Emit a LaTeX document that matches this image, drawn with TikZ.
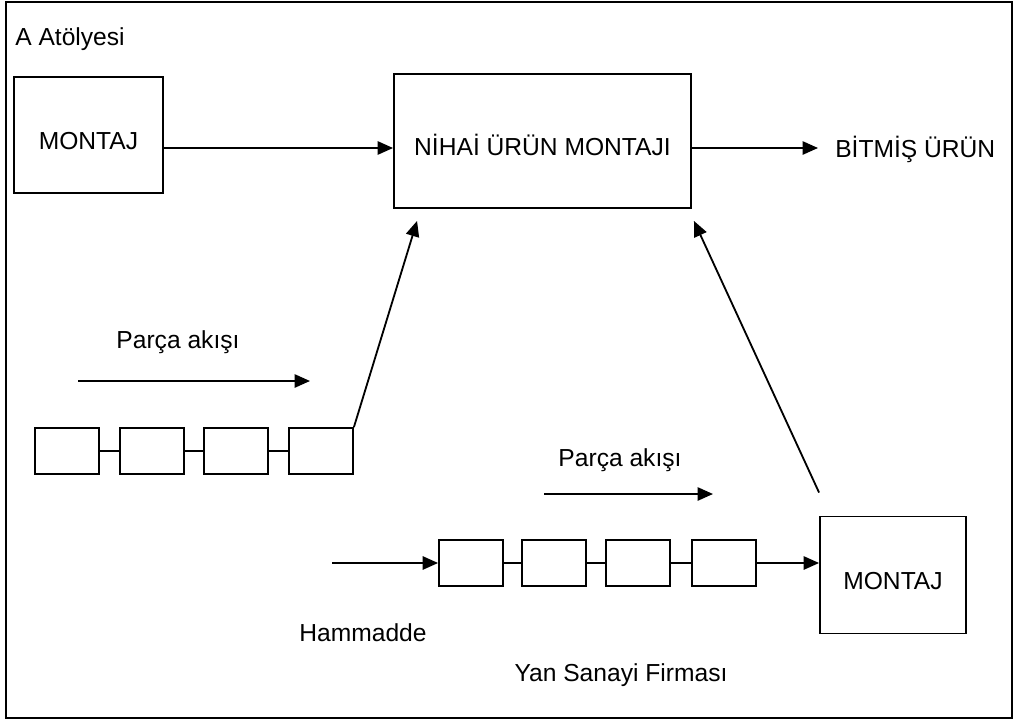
\documentclass[tikz,border=0pt]{standalone}
\usepackage{fontspec}
\setmainfont{Liberation Sans}
\usepackage{tikz}
\usetikzlibrary{arrows.meta}
\usepackage{xcolor}

\begin{document}
\begin{tikzpicture}[x=0.025cm, y=-0.025cm,
  font=\fontsize{17.5}{21}\selectfont,
  bigbox/.style={draw, line width=1.3pt, inner sep=0pt, text height=20pt, text depth=0pt},
  cellbox/.style={draw, line width=1.3pt, minimum width=1.6cm, minimum height=1.15cm, inner sep=0pt},
  flow/.style={line width=1.3pt, -{Triangle[length=11pt,width=9.5pt]}},
  link/.style={line width=1.3pt}]

  \useasboundingbox (0,0) rectangle (1015,724);
  \draw[line width=1.4pt] (6,2) rectangle (1012,718);

  \node[anchor=west, inner sep=0pt] (atolye) at (15,39) {A Atölyesi};
  \node[bigbox, minimum width=3.725cm, minimum height=2.9cm] (montajA) at (88.5,135) {MONTAJ};
  \node[bigbox, minimum width=7.425cm, minimum height=3.35cm] (nihai) at (542.5,141) {NİHAİ ÜRÜN MONTAJI};
  \node[anchor=west, inner sep=0pt] (bitmis) at (835,149) {BİTMİŞ ÜRÜN};
  \node[bigbox, minimum width=3.65cm, minimum height=2.925cm] (montajB) at (893,575) {MONTAJ};

  \draw[flow] ([shift={(0,13)}]montajA.east) -- ([shift={(0,7)}]nihai.west);
  \draw[flow] ([shift={(0,7)}]nihai.east) -- ([shift={(-17,-1)}]bitmis.west);

  % part chain of A
  \node (akisA) at (178,342) {Parça akışı};
  \coordinate (flowAs) at (78,381);
  \coordinate (flowAe) at (310,381);
  \draw[flow] (flowAs) -- (flowAe);
  \node[cellbox] (a1) at (67,451) {};
  \node[cellbox] (a2) at (152,451) {};
  \node[cellbox] (a3) at (236,451) {};
  \node[cellbox] (a4) at (321,451) {};
  \draw[link] (a1) -- (a2);
  \draw[link] (a2) -- (a3);
  \draw[link] (a3) -- (a4);
  \draw[flow] (a4.north east) -- ([shift={(24,12)}]nihai.south west);

  % part chain of the supplier
  \node (akisB) at (620,460) {Parça akışı};
  \coordinate (flowBs) at (544,494);
  \coordinate (flowBe) at (713,494);
  \draw[flow] (flowBs) -- (flowBe);
  \node[cellbox] (b1) at (471,563) {};
  \node[cellbox] (b2) at (554,563) {};
  \node[cellbox] (b3) at (638,563) {};
  \node[cellbox] (b4) at (724,563) {};
  \draw[link] (b1) -- (b2);
  \draw[link] (b2) -- (b3);
  \draw[link] (b3) -- (b4);
  \coordinate (hamIn) at (332,563);
  \draw[flow] (hamIn) -- (b1.west);
  \draw[flow] (b4.east) -- (montajB.west |- b4.east);
  \draw[flow] ([shift={(0,-23)}]montajB.north west) -- ([shift={(2,12)}]nihai.south east);

  \node (hammadde) at (363,633) {Hammadde};
  \node (yansanayi) at (621,675) {Yan Sanayi Firması};

\end{tikzpicture}
\end{document}
